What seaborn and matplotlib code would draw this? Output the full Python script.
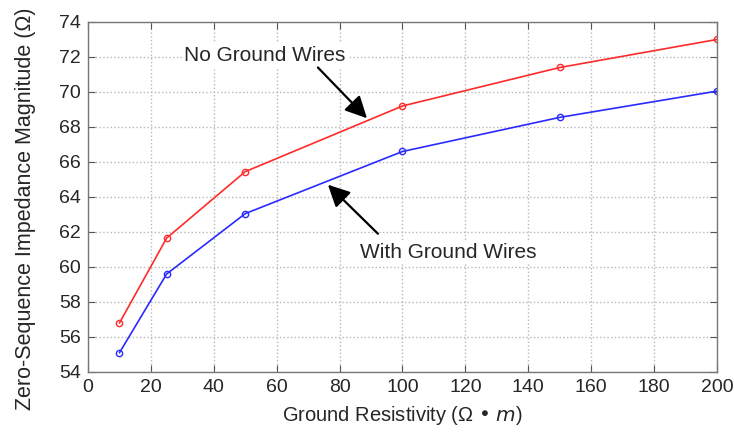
import matplotlib
matplotlib.use("Agg")
import matplotlib.pyplot as plt
import pandas as pd
import seaborn as sns

# Ground resistivity (ohm·m) and zero-sequence impedance magnitude (ohm)
resistivity = [10, 25, 50, 100, 150, 200]
no_ground_wires = [56.8, 61.65, 65.45, 69.2, 71.4, 73.0]
with_ground_wires = [55.1, 59.6, 63.05, 66.6, 68.55, 70.05]

x_ticks = [0, 20, 40, 60, 80, 100, 120, 140, 160, 180, 200]
y_ticks = [54, 56, 58, 60, 62, 64, 66, 68, 70, 72, 74]

df = pd.DataFrame({
    "rho": resistivity * 2,
    "z": no_ground_wires + with_ground_wires,
    "case": ["No Ground Wires"] * len(resistivity) + ["With Ground Wires"] * len(resistivity),
})

sns.set_style("white")
plt.rcParams["font.family"] = ["Liberation Sans", "DejaVu Sans"]

fig = plt.figure(figsize=(7.34, 4.38), dpi=100)
ax = fig.add_axes([0.1199, 0.1507, 0.8569, 0.7991])

sns.lineplot(data=df, x="rho", y="z", hue="case",
             palette={"No Ground Wires": "#ff2a2a", "With Ground Wires": "#2a2aff"},
             marker="o", markersize=4.5, linewidth=1.2, legend=False, ax=ax)
for ln in ax.lines:
    ln.set_markerfacecolor("none")
    ln.set_markeredgecolor(ln.get_color())
    ln.set_markeredgewidth(1.0)

ax.set_xlim(0, 200)
ax.set_ylim(54, 74)
ax.set_xticks(x_ticks)
ax.set_yticks(y_ticks)
ax.tick_params(direction="in", length=5, width=0.8, color="#555555",
               labelsize=14, bottom=True, left=True, top=True, right=True, pad=5)
ax.grid(True, linestyle=":", color="#b8b8b8", linewidth=1.0)
for s in ax.spines.values():
    s.set_color("#777777")
    s.set_linewidth(1.0)

ax.set_xlabel("Ground Resistivity (Ω • $m$)", fontsize=14.5, labelpad=6)
ax.set_ylabel("Zero-Sequence Impedance Magnitude (Ω)", fontsize=15.5)
ax.yaxis.set_label_coords(-0.083, 0.465)

ax.text(56.3, 72.1, "No Ground Wires", fontsize=15, ha="center", va="center",
        bbox=dict(facecolor="white", edgecolor="none", pad=2))
ax.annotate("", xy=(88.7, 68.5), xytext=(73.1, 71.4),
            arrowprops=dict(arrowstyle="-|>,head_length=0.6,head_width=0.3",
                            color="black", lw=1.6,
                            mutation_scale=22, shrinkA=0, shrinkB=0))

ax.text(114.5, 60.85, "With Ground Wires", fontsize=15, ha="center", va="center",
        bbox=dict(facecolor="white", edgecolor="none", pad=2))
ax.annotate("", xy=(76.3, 64.7), xytext=(92.2, 61.9),
            arrowprops=dict(arrowstyle="-|>,head_length=0.6,head_width=0.3",
                            color="black", lw=1.6,
                            mutation_scale=22, shrinkA=0, shrinkB=0))

fig.savefig("out.png", dpi=100)
